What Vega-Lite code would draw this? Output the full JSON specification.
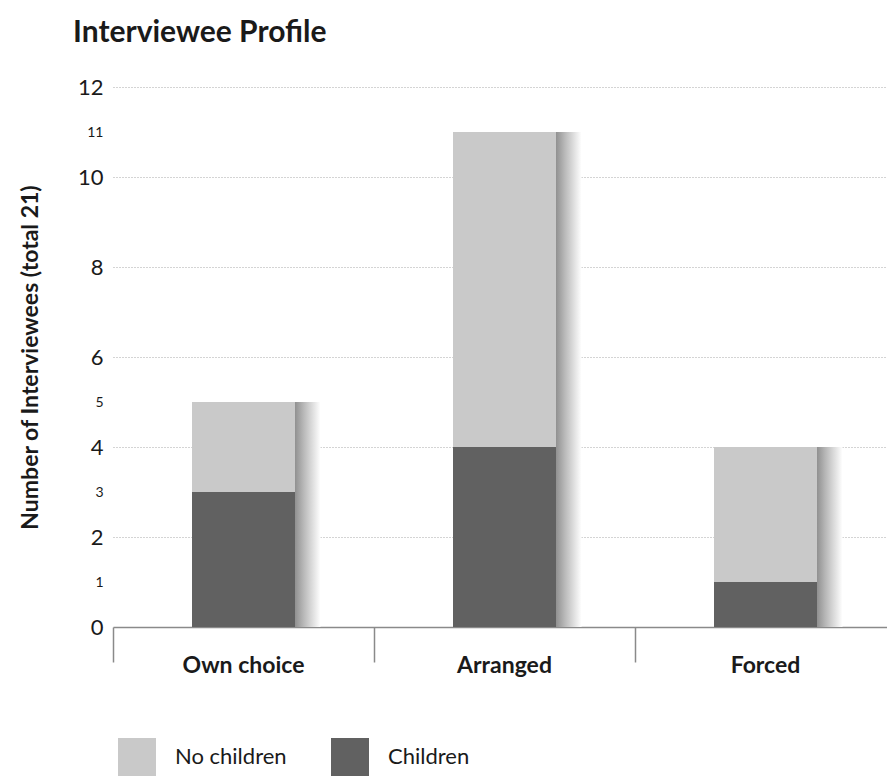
{
  "$schema": "https://vega.github.io/schema/vega-lite/v6.json",
  "autosize": "none",
  "width": 783,
  "height": 540,
  "padding": {"left": 113, "top": 87, "right": 0, "bottom": 150},
  "background": "white",
  "config": {
    "font": "Lato",
    "view": {"stroke": null},
    "axisY": {
      "titleFontSize": 23,
      "titleFontWeight": "bold",
      "titleColor": "#1a1a1a",
      "titleX": -83,
      "titleY": 270,
      "titleAngle": -90,
      "titleAlign": "center",
      "titleBaseline": "middle",
      "labelFontSize": {"expr": "datum.value % 2 == 0 ? 22 : 14"},
      "labelColor": "#1a1a1a",
      "labelPadding": 10,
      "ticks": false,
      "domain": false,
      "grid": true,
      "gridColor": "#a8a8a8",
      "gridDash": [1, 2],
      "gridWidth": 1,
      "gridOpacity": {"expr": "datum.value % 2 == 0 && datum.value > 0 ? 1 : 0"}
    }
  },
  "title": {
    "text": "Interviewee Profile",
    "anchor": "start",
    "frame": "group",
    "dx": -40,
    "offset": 28,
    "fontSize": 30,
    "fontWeight": "bold",
    "color": "#1a1a1a",
    "font": "Lato"
  },
  "data": {
    "values": [
      {"cat": "Own choice", "group": "Children", "count": 3},
      {"cat": "Own choice", "group": "No children", "count": 2},
      {"cat": "Arranged", "group": "Children", "count": 4},
      {"cat": "Arranged", "group": "No children", "count": 7},
      {"cat": "Forced", "group": "Children", "count": 1},
      {"cat": "Forced", "group": "No children", "count": 3}
    ]
  },
  "encoding": {
    "x": {
      "field": "cat",
      "type": "nominal",
      "sort": ["Own choice", "Arranged", "Forced"],
      "scale": {"paddingInner": 0, "paddingOuter": 0},
      "axis": {
        "title": null,
        "labelAngle": 0,
        "labelFontSize": 23,
        "labelFontWeight": "bold",
        "labelColor": "#1a1a1a",
        "labelPadding": -8,
        "bandPosition": 0,
        "tickSize": 35,
        "tickColor": "#8a8a8a",
        "tickWidth": 1.5,
        "domainColor": "#8a8a8a",
        "domainWidth": 1.5,
        "grid": false
      }
    }
  },
  "layer": [
    {
      "mark": {
        "type": "bar",
        "width": 26,
        "xOffset": 64,
        "color": {
          "gradient": "linear",
          "x1": 0, "x2": 1, "y1": 0, "y2": 0,
          "stops": [
            {"offset": 0, "color": "#8e8e8e"},
            {"offset": 0.35, "color": "#b8b8b8"},
            {"offset": 1, "color": "#ffffff"}
          ]
        }
      },
      "encoding": {
        "y": {
          "aggregate": "sum",
          "field": "count",
          "type": "quantitative",
          "scale": {"domain": [0, 12], "nice": false},
          "title": "Number of Interviewees (total 21)",
          "axis": {"values": [0, 1, 2, 3, 4, 5, 6, 8, 10, 11, 12]}
        }
      }
    },
    {
      "mark": {"type": "bar", "width": 103},
      "encoding": {
        "y": {
          "aggregate": "sum",
          "field": "count",
          "type": "quantitative",
          "stack": "zero",
          "scale": {"domain": [0, 12], "nice": false},
          "title": "Number of Interviewees (total 21)",
          "axis": {"values": [0, 1, 2, 3, 4, 5, 6, 8, 10, 11, 12]}
        },
        "color": {
          "field": "group",
          "type": "nominal",
          "scale": {"domain": ["No children", "Children"], "range": ["#c9c9c9", "#616161"]},
          "legend": {
            "title": null,
            "orient": "none",
            "legendX": 5,
            "legendY": 651,
            "direction": "horizontal",
            "columns": 2,
            "symbolType": "square",
            "symbolSize": 1444,
            "symbolStrokeWidth": 0,
            "labelFontSize": 22,
            "labelColor": "#1a1a1a",
            "labelOffset": 19,
            "columnPadding": 44
          }
        },
        "order": {"field": "group", "sort": "ascending"}
      }
    }
  ]
}
